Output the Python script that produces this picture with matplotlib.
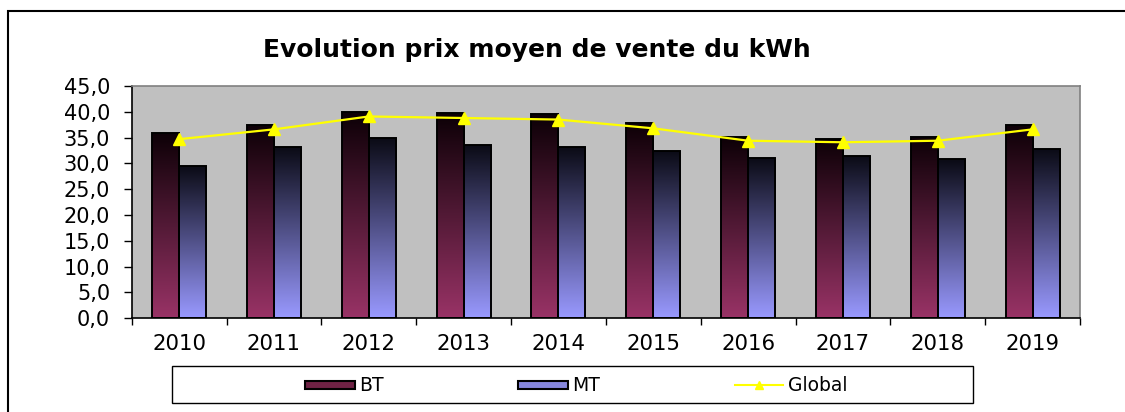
import numpy as np
import matplotlib
matplotlib.use("Agg")
import matplotlib.pyplot as plt
from matplotlib.colors import LinearSegmentedColormap
from matplotlib.patches import Rectangle
from matplotlib.lines import Line2D

plt.rcParams['font.family'] = ['DejaVu Sans']

# data
years = ['2010', '2011', '2012', '2013', '2014', '2015', '2016', '2017', '2018', '2019']
bt = [35.9, 37.5, 39.9, 39.7, 39.5, 37.9, 35.2, 34.7, 35.2, 37.5]
mt = [29.5, 33.2, 35.0, 33.6, 33.2, 32.4, 31.0, 31.4, 30.8, 32.8]
glob = [34.7, 36.6, 39.1, 38.8, 38.5, 36.8, 34.4, 34.1, 34.4, 36.6]

W, H = 1125, 412
fig = plt.figure(figsize=(W / 100, H / 100), dpi=100)
ax = fig.add_axes([131.7 / W, 1 - 318.3 / H, (1080 - 131.7) / W, (318.3 - 86) / H])
ax.set_facecolor('#c0c0c0')

x = np.arange(len(years))
bw = 0.285

bt_cmap = LinearSegmentedColormap.from_list('bt', ['#993366', '#0c0006'])
mt_cmap = LinearSegmentedColormap.from_list('mt', ['#9999ff', '#0a0a14'])
grad = np.linspace(0, 1, 256).reshape(-1, 1)


def gradient_bars(xs, vals, cmap):
    bars = ax.bar(xs, vals, width=bw, align='edge', facecolor='none',
                  edgecolor='black', linewidth=1.4, zorder=3)
    for b in bars:
        x0, y0 = b.get_x(), b.get_y()
        im = ax.imshow(grad, extent=(x0, x0 + b.get_width(), y0, y0 + b.get_height()),
                       origin='lower', cmap=cmap, aspect='auto', zorder=2)
        im.set_clip_path(b)
    return bars


gradient_bars(x - bw, bt, bt_cmap)
gradient_bars(x, mt, mt_cmap)
ax.plot(x, glob, color='#ffff00', lw=1.6, marker='^', markersize=8.5,
        markeredgecolor='#ffff00', zorder=4)

ax.set_xlim(-0.5, len(years) - 0.5)
ax.set_ylim(0, 45)
yt = np.arange(0, 46, 5)
ax.set_yticks(yt)
ax.set_yticklabels([f'{v:.1f}'.replace('.', ',') for v in yt], fontsize=15)
ax.tick_params(axis='y', direction='out', length=5.5, width=1, pad=10)

ax.set_xticks(np.arange(-0.5, len(years), 1))
ax.set_xticklabels([])
ax.set_xticks(x, minor=True)
ax.set_xticklabels(years, minor=True, fontsize=15.3)
ax.tick_params(axis='x', which='major', direction='out', length=5, width=1)
ax.tick_params(axis='x', which='minor', length=0, pad=11.5)

for s in ['top', 'right']:
    ax.spines[s].set_color('#808080')
    ax.spines[s].set_linewidth(1.2)
for s in ['left', 'bottom']:
    ax.spines[s].set_color('black')
    ax.spines[s].set_linewidth(1.2)

# title
fig.text(536.5 / W, 1 - 57.3 / H, 'Evolution prix moyen de vente du kWh',
         ha='center', va='baseline', fontsize=18, fontweight='bold')

# outer frame
fig.add_artist(Rectangle((8 / W, -0.2), 1.2, 1.2 - 11 / H, transform=fig.transFigure,
                         fill=False, edgecolor='black', lw=1.5))

# legend
ly = 1 - 385 / H
base = 1 - 391 / H
fig.add_artist(Rectangle((172 / W, 1 - 403 / H), (973 - 172) / W, (403 - 365.7) / H,
                         transform=fig.transFigure, fill=False, edgecolor='black', lw=1))
ph = 8 / H
fig.add_artist(Rectangle((305 / W, ly - ph / 2), 50 / W, ph, transform=fig.transFigure,
                         facecolor='#6e2244', edgecolor='black', lw=1.5))
fig.text(359 / W, base, 'BT', ha='left', va='baseline', fontsize=13.5)
fig.add_artist(Rectangle((518 / W, ly - ph / 2), 50 / W, ph, transform=fig.transFigure,
                         facecolor='#8686dc', edgecolor='black', lw=1.5))
fig.text(572 / W, base, 'MT', ha='left', va='baseline', fontsize=13.5)
fig.add_artist(Line2D([735 / W, 783 / W], [ly, ly], transform=fig.transFigure,
                      color='#ffff00', lw=1.5))
fig.add_artist(Line2D([759 / W], [ly], transform=fig.transFigure, color='#ffff00',
                      marker='^', markersize=6, linestyle='none'))
fig.text(788 / W, base, 'Global', ha='left', va='baseline', fontsize=13.5)

fig.savefig('out.png', dpi=100)
